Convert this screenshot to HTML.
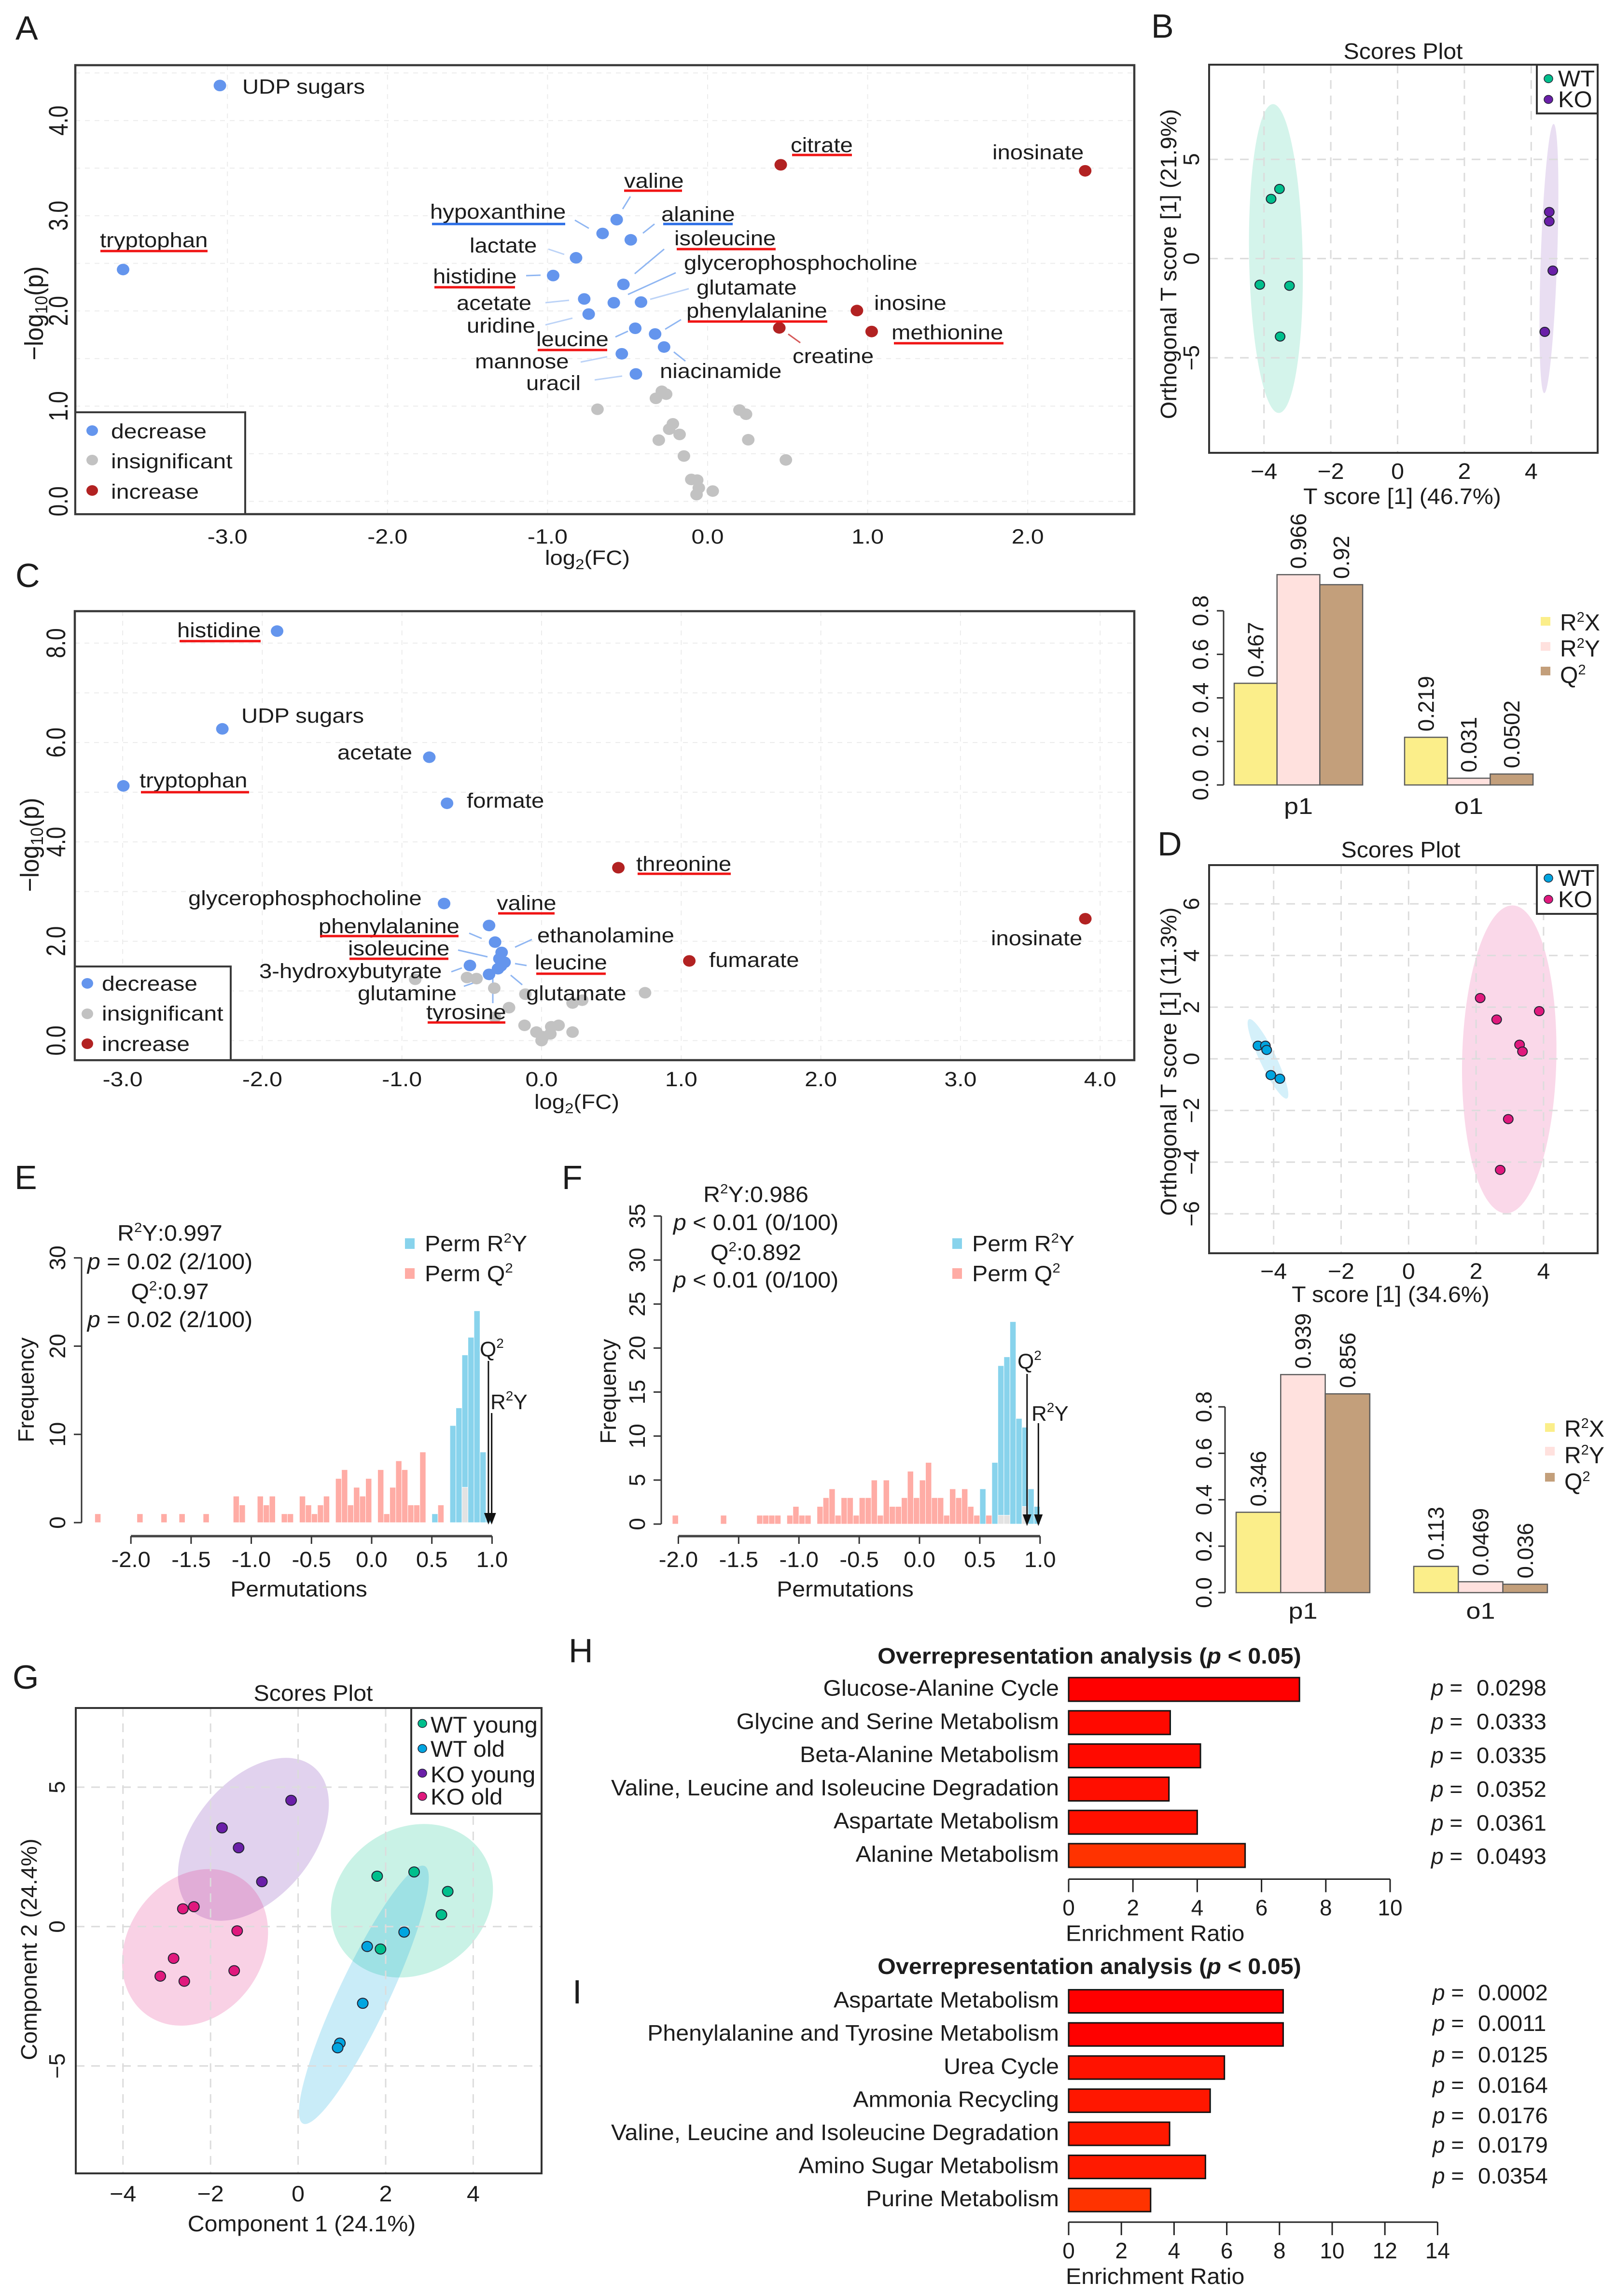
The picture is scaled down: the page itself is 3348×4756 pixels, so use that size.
<!DOCTYPE html>
<html lang="en">
<head>
<meta charset="utf-8">
<title>Metabolomics multi-panel figure</title>
<style>
html,body{margin:0;padding:0;background:#fff;}
svg{display:block;font-family:"Liberation Sans",Arial,sans-serif;}
text{fill:#1c1c1c;}
</style>
</head>
<body>
<svg id="figure" xmlns="http://www.w3.org/2000/svg" width="3348" height="4756" viewBox="0 0 3348 4756">
<rect x="0" y="0" width="3348" height="4756" fill="#fff"/>
<g font-size="70" style="fill:#333">
<text x="32" y="82">A</text>
<text x="2385" y="78">B</text>
<text x="32" y="1216">C</text>
<text x="2398" y="1772">D</text>
<text x="30" y="2463">E</text>
<text x="1164" y="2463">F</text>
<text x="26" y="3498">G</text>
<text x="1178" y="3443">H</text>
<text x="1186" y="4150">I</text>
</g>
<g id="panelA"></g>
<g id="panelB"></g>
<g id="panelBbars"></g>
<g id="panelC"></g>
<g id="panelD"></g>
<g id="panelDbars"></g>
<g id="panelE"></g>
<g id="panelF"></g>
<g id="panelG"></g>
<g id="panelH"></g>
<g id="panelI"></g>
</svg>
<script>
/* ---------- Panel A data ---------- */
const aNames = ["UDP sugars","tryptophan","citrate","inosinate","valine","hypoxanthine","alanine","lactate","histidine","isoleucine","acetate","glycerophosphocholine","glutamate","uridine","inosine","phenylalanine","leucine","creatine","methionine","niacinamide","mannose","uracil","","","","","","","","","","","","","","","","","",""];
const aFc = [-3.047,-3.652,0.457,2.359,-0.568,-0.656,-0.48,-0.822,-0.965,-0.526,-0.771,-0.586,-0.416,-0.743,0.933,-0.328,-0.452,0.448,1.025,-0.272,-0.536,-0.448,-0.286,-0.259,-0.323,-0.688,0.199,0.24,-0.217,-0.24,-0.175,-0.305,0.254,-0.148,0.489,-0.102,-0.065,-0.055,0.032,-0.069];
const aLogP = [4.368,2.435,3.535,3.472,2.959,2.814,2.747,2.558,2.372,2.279,2.126,2.086,2.093,1.967,2.004,1.758,1.818,1.822,1.784,1.621,1.55,1.338,1.156,1.126,1.082,0.967,0.959,0.915,0.814,0.758,0.703,0.643,0.647,0.476,0.435,0.23,0.223,0.141,0.108,0.071];
const aClass = ["d","d","i","i","d","d","d","d","d","d","d","d","d","d","i","d","d","i","i","d","d","d","n","n","n","n","n","n","n","n","n","n","n","n","n","n","n","n","n","n"];
const aXTicks = ["-3.0","-2.0","-1.0","0.0","1.0","2.0"];
const aYTicks = ["0.0","1.0","2.0","3.0","4.0"];

/* ---------- Panel C data ---------- */
const cNames = ["histidine","UDP sugars","acetate","tryptophan","formate","threonine","glycerophosphocholine","inosinate","valine","phenylalanine","ethanolamine","isoleucine","leucine","glutamate","glutamine","fumarate","3-hydroxybutyrate","tyrosine","","","","","","","","","","","","","","","","","",""];
const cFc = [-1.894,-2.286,-0.804,-2.995,-0.677,0.55,-0.698,3.894,-0.376,-0.333,-0.286,-0.302,-0.265,-0.291,-0.312,1.058,-0.513,-0.376,-0.534,-0.466,-0.905,-0.339,-0.116,0.741,0.222,0.291,-0.233,-0.333,-0.122,0.122,0.069,0.222,-0.037,0,0.063,0.011];
const cLogP = [8.243,6.275,5.704,5.127,4.777,3.48,2.759,2.453,2.317,1.982,1.775,1.647,1.576,1.504,1.447,1.604,1.512,1.333,1.269,1.248,1.234,1.055,0.934,0.963,0.756,0.813,0.663,0.471,0.307,0.307,0.278,0.171,0.171,0,0.135,0.078];
const cClass = ["d","d","d","d","d","i","d","i","d","d","d","d","d","d","d","i","d","d","n","n","n","n","n","n","n","n","n","n","n","n","n","n","n","n","n","n"];
const cXTicks = ["-3.0","-2.0","-1.0","0.0","1.0","2.0","3.0","4.0"];
const cYTicks = ["0.0","2.0","4.0","6.0","8.0"];

/* ---------- Panel B scores ---------- */
const bWtX = [-3.536,-3.787,-4.126,-3.237,-3.517];
const bWtY = [3.509,3.008,-1.319,-1.372,-3.931];
const bKoX = [4.541,4.541,4.647,4.406];
const bKoY = [2.348,1.873,-0.607,-3.694];
const bEllipseCx = [-3.643,4.531];
const bEllipseCy = [0,0];
const bXTicks = [-4,-2,0,2,4];
const bYTicks = [-5,0,5];

/* ---------- Panel D scores ---------- */
const dWtX = [-4.465,-4.245,-4.207,-4.083,-3.815];
const dWtY = [0.507,0.507,0.345,-0.629,-0.771];
const dKoX = [2.122,2.61,3.872,3.289,3.375,2.954,2.715];
const dKoY = [2.353,1.521,1.846,0.548,0.284,-2.333,-4.3];
const dEllipseCx = [-4.168,2.983];
const dEllipseCy = [0,-0.02];
const dXTicks = [-4,-2,0,2,4];
const dYTicks = [-6,-4,-2,0,2,4,6];

/* ---------- Panel G scores ---------- */
const gWtYoungX = [1.806,2.65,3.418,3.274,1.882];
const gWtYoungY = [1.809,1.96,1.261,0.426,-0.805];
const gWtOldX = [2.422,1.578,1.477,0.954,0.903];
const gWtOldY = [-0.198,-0.714,-2.751,-4.179,-4.347];
const gKoYoungX = [-0.16,-1.738,-1.359,-0.827];
const gKoYoungY = [4.529,3.541,2.827,1.611];
const gKoOldX = [-2.633,-2.38,-1.392,-2.844,-1.46,-3.148,-2.6];
const gKoOldY = [0.638,0.714,-0.152,-1.14,-1.581,-1.778,-1.96];
const gEllipseCx = [2.6,1.502,-1.021,-2.354];
const gEllipseCy = [0.927,-2.447,3.131,-0.745];
const gXTicks = [-4,-2,0,2,4];
const gYTicks = [-5,0,5];

/* ---------- Model summary bars ---------- */
const barCategories = ["p1","o1"];
const barTicks = ["0.0","0.2","0.4","0.6","0.8"];
const bP1Values = [0.467,0.966,0.92];
const bO1Values = [0.219,0.031,0.0502];
const dP1Values = [0.346,0.939,0.856];
const dO1Values = [0.113,0.0469,0.036];

/* ---------- Permutation histograms ---------- */
const histXTicks = ["-2.0","-1.5","-1.0","-0.5","0.0","0.5","1.0"];
const eYTicks = [0,10,20,30];
const fYTicks = [0,5,10,15,20,25,30,35];
const eR2Bins = [0.5,0.65,0.7,0.75,0.8,0.85,0.9,0.95];
const eR2Counts = [1,11,13,19,21,24,8,1];
const eQ2Bins = [-2.3,-1.95,-1.75,-1.6,-1.4,-1.15,-1.1,-0.95,-0.9,-0.85,-0.75,-0.7,-0.6,-0.55,-0.5,-0.45,-0.4,-0.3,-0.25,-0.2,-0.15,-0.1,-0.05,0.05,0.1,0.15,0.2,0.25,0.3,0.35,0.4,0.55,0.75];
const eQ2Counts = [1,1,1,1,1,3,2,3,2,3,1,1,3,2,1,2,3,5,6,2,4,3,5,6,1,4,7,6,2,2,8,2,4];
const eObservedQ2 = 0.97;
const eObservedR2Y = 0.997;
const fR2Bins = [0.5,0.6,0.65,0.7,0.75,0.8,0.85,0.9,0.95];
const fR2Counts = [4,7,18,19,23,12,11,4,2];
const fQ2Bins = [-2.05,-1.65,-1.35,-1.3,-1.25,-1.2,-1.1,-1.05,-1,-0.95,-0.85,-0.8,-0.75,-0.7,-0.65,-0.6,-0.55,-0.5,-0.45,-0.4,-0.35,-0.3,-0.25,-0.2,-0.15,-0.1,-0.05,0,0.05,0.1,0.15,0.2,0.25,0.3,0.35,0.4,0.45,0.55,0.65,0.7,0.85];
const fQ2Counts = [1,1,1,1,1,1,1,2,1,1,2,3,4,1,3,3,1,3,3,5,1,5,2,2,3,6,3,5,7,3,3,1,4,3,4,2,1,1,1,1,2];
const fObservedQ2 = 0.892;
const fObservedR2Y = 0.986;

/* ---------- Enrichment charts ---------- */
const hPathways = ["Glucose-Alanine Cycle","Glycine and Serine Metabolism","Beta-Alanine Metabolism","Valine, Leucine and Isoleucine Degradation","Aspartate Metabolism","Alanine Metabolism"];
const hRatios = [7.18,3.16,4.1,3.12,4,5.49];
const hPValues = [0.0298,0.0333,0.0335,0.0352,0.0361,0.0493];
const hTicks = [0,2,4,6,8,10];
const iPathways = ["Aspartate Metabolism","Phenylalanine and Tyrosine Metabolism","Urea Cycle","Ammonia Recycling","Valine, Leucine and Isoleucine Degradation","Amino Sugar Metabolism","Purine Metabolism"];
const iRatios = [8.14,8.14,5.91,5.37,3.83,5.19,3.11];
const iPValues = [0.0002,0.0011,0.0125,0.0164,0.0176,0.0179,0.0354];
const iTicks = [0,2,4,6,8,10,12,14];

/* ---------- Layout of annotations (pixels, not data) ---------- */
const volcanoLabelLayoutA = {"UDP sugars":[502,194],"citrate":[1638,315],"inosinate":[2056,330],"valine":[1293,389],"hypoxanthine":[891,453],"alanine":[1370,458],"isoleucine":[1397,508],"lactate":[973,523],"tryptophan":[207,512],"glycerophosphocholine":[1417,559],"histidine":[897,587],"glutamate":[1443,610],"acetate":[946,642],"inosine":[1811,642],"phenylalanine":[1422,658],"uridine":[967,689],"leucine":[1111,717],"methionine":[1847,703],"creatine":[1642,752],"mannose":[984,763],"niacinamide":[1367,783],"uracil":[1090,808]};
const volcanoUnderlinesA = [[1641,1765,321,"#f01414"],[1293,1413,395,"#f01414"],[895,1171,464,"#2a6de6"],[1374,1518,464,"#2a6de6"],[1402,1607,516,"#f01414"],[208,430,520,"#f01414"],[900,1067,595,"#f01414"],[1425,1714,666,"#f01414"],[1114,1258,725,"#f01414"],[1852,2079,711,"#f01414"]];
const volcanoLeadersA = [[1306,407,1290,433,"#8fb6f2"],[1191,456,1220,473,"#8fb6f2"],[1356,464,1332,483,"#8fb6f2"],[1136,516,1169,527,"#bcd3f7"],[1090,571,1120,570,"#8fb6f2"],[1376,516,1315,567,"#8fb6f2"],[1400,565,1301,610,"#8fb6f2"],[1427,598,1347,620,"#bcd3f7"],[1130,627,1179,622,"#bcd3f7"],[1130,673,1186,659,"#bcd3f7"],[1275,698,1301,686,"#8fb6f2"],[1378,682,1411,662,"#8fb6f2"],[1633,692,1658,710,"#d65a5a"],[1396,729,1420,748,"#8fb6f2"],[1203,750,1258,739,"#bcd3f7"],[1232,787,1289,779,"#bcd3f7"]];
const volcanoLabelLayoutC = {"histidine":[367,1320],"UDP sugars":[500,1497],"acetate":[699,1573],"tryptophan":[289,1631],"formate":[967,1673],"threonine":[1318,1804],"glycerophosphocholine":[390,1875],"valine":[1029,1885],"phenylalanine":[660,1933],"ethanolamine":[1113,1952],"inosinate":[2053,1958],"isoleucine":[721,1979],"fumarate":[1469,2003],"leucine":[1108,2008],"3-hydroxybutyrate":[537,2026],"glutamine":[741,2072],"glutamate":[1090,2072],"tyrosine":[883,2111]};
const volcanoUnderlinesC = [[372,540,1328,"#f01414"],[292,516,1641,"#f01414"],[1321,1514,1810,"#f01414"],[1032,1149,1892,"#f01414"],[663,950,1939,"#f01414"],[724,929,1986,"#f01414"],[1111,1255,2017,"#f01414"],[886,1047,2118,"#f01414"]];
const volcanoLeadersC = [[972,1933,998,1944,"#8fb6f2"],[949,1968,1010,1982,"#8fb6f2"],[1102,1946,1067,1962,"#8fb6f2"],[1067,1996,1091,2000,"#8fb6f2"],[935,2013,957,2005,"#8fb6f2"],[961,2043,987,2034,"#8fb6f2"],[1058,2020,1082,2040,"#8fb6f2"],[1021,2026,1021,2078,"#8fb6f2"]];

const svgNS = "http://www.w3.org/2000/svg";
function mk(parent, tag, attrs) {
  const el = document.createElementNS(svgNS, tag);
  for (const k in attrs) el.setAttribute(k, attrs[k]);
  parent.appendChild(el);
  return el;
}
function txt(parent, x, y, s, o) {
  o = o || {};
  const el = document.createElementNS(svgNS, "text");
  el.setAttribute("transform", "translate(" + x + "," + y + ") rotate(" + (o.rot || 0) + ") scale(" + (o.sx || 1) + ",1)");
  el.setAttribute("font-size", o.size || 46);
  el.setAttribute("text-anchor", o.anchor || "start");
  if (o.weight) el.setAttribute("font-weight", o.weight);
  el.innerHTML = s;
  parent.appendChild(el);
  return el;
}
function linear(v0, p0, pxPerUnit) { return function (v) { return p0 + (v - v0) * pxPerUnit; }; }

/* ---------- Volcano ---------- */
const volcanoColors = {d: "#6495ed", n: "#c2c2c2", i: "#b22222"};
function drawVolcano(host, c) {
  const X = linear(0, c.x0, c.sx), Y = linear(0, c.y0, -c.sy);
  for (let v = c.xRange[0]; v <= c.xRange[1]; v += 1) {
    const gl = mk(host, "line", {x1: X(v), x2: X(v), y1: c.f[1], y2: c.f[3], stroke: "#ececec", "stroke-width": 2, "stroke-dasharray": "10 10"});
    
    
  }
  for (let v = c.yRange[0]; v <= c.yRange[1]; v += c.yGridStep) {
    const gl = mk(host, "line", {x1: c.f[0], x2: c.f[2], y1: Y(v), y2: Y(v), stroke: "#ececec", "stroke-width": 2, "stroke-dasharray": "10 10"});
    
    
  }
  c.leaders.forEach(function (l) {
    const ln = mk(host, "line", {x1: l[0], y1: l[1], x2: l[2], y2: l[3], stroke: l[4], "stroke-width": 3});
    
    
  });
  c.fc.forEach(function (v, i) {
    const p = mk(host, "ellipse", {cx: X(v), cy: Y(c.logp[i]), rx: 13, ry: 12, fill: volcanoColors[c.cls[i]]});
    
    
  });
  c.names.forEach(function (n) {
    if (!n) return;
    const pos = c.layout[n];
    const t = txt(host, pos[0], pos[1], n, {size: 43, sx: 1.1});
    
    
  });
  c.underlines.forEach(function (u) {
    const r = mk(host, "rect", {x: u[0], y: u[2] - 2.5, width: u[1] - u[0], height: 5, fill: u[3]});
    
    
  });
  const fr = mk(host, "rect", {x: c.f[0], y: c.f[1], width: c.f[2] - c.f[0], height: c.f[3] - c.f[1], fill: "none", stroke: "#3a3a3a", "stroke-width": 4.5});
  
  
  c.xTicks.forEach(function (s) {
    const t = txt(host, X(parseFloat(s)), c.xTickY, s, {size: 43, sx: 1.12, anchor: "middle"});
    
    
  });
  c.yTicks.forEach(function (s) {
    const t = txt(host, c.yTickX, Y(parseFloat(s)), s, {size: 56, sx: 0.8, anchor: "middle", rot: -90});
    
    
  });
  const xt = txt(host, c.xLabel[0], c.xLabel[1], 'log<tspan font-size="30" dy="9">2</tspan><tspan dy="-9">(FC)</tspan>', {size: 43, sx: 1.1, anchor: "middle"});
  
  
  const yt = txt(host, c.yLabel[0], c.yLabel[1], '−log<tspan font-size="36" dy="9">10</tspan><tspan dy="-9">(p)</tspan>', {size: 54, sx: 0.93, anchor: "middle", rot: -90});
  
  
  const lb = mk(host, "rect", {x: c.lg.x, y: c.lg.y, width: c.lg.w, height: c.lg.h, fill: "#fff", stroke: "#3a3a3a", "stroke-width": 4});
  
  
  ["decrease", "insignificant", "increase"].forEach(function (n, i) {
    const m = mk(host, "ellipse", {cx: c.lg.mx, cy: c.lg.my[i], rx: 12, ry: 11, fill: volcanoColors[["d", "n", "i"][i]]});
    
    
    const t = txt(host, c.lg.tx, c.lg.ty[i], n, {size: 43, sx: 1.12});
    
    
  });
}

/* ---------- Scores ---------- */
function drawScores(host, c) {
  const X = linear(0, c.x0, c.sx), Y = linear(0, c.y0, -c.sy);
  c.ellipses.forEach(function (e) {
    const el = mk(host, "ellipse", {cx: 0, cy: 0, rx: e.rx, ry: e.ry, fill: e.fill, "fill-opacity": e.alpha, transform: "translate(" + X(e.cx) + "," + Y(e.cy) + ") rotate(" + e.rot + ")"});
    
    
  });
  c.xTicks.forEach(function (v) {
    const gl = mk(host, "line", {x1: X(v), x2: X(v), y1: c.f[1], y2: c.f[3], stroke: "#dcdcdc", "stroke-width": 3, "stroke-dasharray": "18 14"});
    
    
    const t = txt(host, X(v), c.xTickY, String(v).replace("-", "−"), {size: 46, anchor: "middle", sx: 1.05});
    
    
  });
  c.yTicks.forEach(function (v) {
    const gl = mk(host, "line", {x1: c.f[0], x2: c.f[2], y1: Y(v), y2: Y(v), stroke: "#dcdcdc", "stroke-width": 3, "stroke-dasharray": "18 14"});
    
    
    const t = txt(host, c.yTickX, Y(v), String(v).replace("-", "−"), {size: 46, anchor: "middle", rot: -90});
    
    
  });
  c.groups.forEach(function (g) {
    g.x.forEach(function (v, i) {
      const p = mk(host, "ellipse", {cx: X(v), cy: Y(g.y[i]), rx: c.r, ry: c.r - 0.5, fill: g.color, stroke: "#223", "stroke-width": 2});
      
      
    });
  });
  const fr = mk(host, "rect", {x: c.f[0], y: c.f[1], width: c.f[2] - c.f[0], height: c.f[3] - c.f[1], fill: "none", stroke: "#333", "stroke-width": 4});
  
  
  const title = txt(host, c.title[0], c.title[1], "Scores Plot", {size: 46, anchor: "middle", sx: 1.05});
  
  
  const xt = txt(host, c.xLabel[0], c.xLabel[1], c.xLabel[2], {size: 46, anchor: "middle", sx: 1.05});
  
  
  const yt = txt(host, c.yLabel[0], c.yLabel[1], c.yLabel[2], {size: 46, anchor: "middle", rot: -90, sx: 1.02});
  
  
  const lb = mk(host, "rect", {x: c.lg.x, y: c.lg.y, width: c.lg.w, height: c.lg.h, fill: "#fff", stroke: "#333", "stroke-width": 4});
  
  
  c.groups.forEach(function (g, i) {
    const m = mk(host, "ellipse", {cx: c.lg.mx, cy: c.lg.my[i], rx: 9, ry: 8.5, fill: g.color, stroke: "#223", "stroke-width": 1.5});
    
    
    const t = txt(host, c.lg.tx, c.lg.ty[i], g.label, {size: 47, sx: 1.04});
    
    
  });
}

/* ---------- Model summary bars ---------- */
const barFills = ["#fbee8a", "#ffe1de", "#c39f7b"];
const barLegendLabels = ['R<tspan font-size="29" dy="-18">2</tspan><tspan dy="18">X</tspan>', 'R<tspan font-size="29" dy="-18">2</tspan><tspan dy="18">Y</tspan>', 'Q<tspan font-size="29" dy="-18">2</tspan>'];
function drawModelBars(host, c) {
  const Y = linear(0, c.y0, -c.sy);
  const ax = mk(host, "line", {x1: c.axisX, x2: c.axisX, y1: Y(0), y2: Y(0.8), stroke: "#333", "stroke-width": 3});
  
  
  barTicks.forEach(function (s) {
    const v = parseFloat(s);
    const tk = mk(host, "line", {x1: c.axisX - 14, x2: c.axisX, y1: Y(v), y2: Y(v), stroke: "#333", "stroke-width": 3});
    
    
    const t = txt(host, c.tickX, Y(v), s, {size: 46, anchor: "middle", rot: -90});
    
    
  });
  c.sets.forEach(function (set, s) {
    set.values.forEach(function (v, i) {
      const x = set.x + i * c.barW;
      const r = mk(host, "rect", {x: x, y: Y(v), width: c.barW, height: Y(0) - Y(v), fill: barFills[i], stroke: "#5c5c5c", "stroke-width": 2.5});
      
      
      const t = txt(host, x + c.barW / 2 + 16, Y(v) - 12, String(v), {size: 46, rot: -90});
      
      
    });
    const ct = txt(host, set.x + c.barW * 1.5, c.catY, barCategories[s], {size: 47, anchor: "middle", sx: 1.15});
    
    
  });
  c.legend.forEach(function (l, i) {
    const sw = mk(host, "rect", {x: c.lgX, y: l[0] - 9, width: 20, height: 18, fill: barFills[i]});
    
    
    const t = txt(host, c.lgX + 40, l[1], barLegendLabels[i], {size: 48});
    
    
  });
}

/* ---------- Permutation histogram ---------- */
const superR2Y = 'R<tspan font-size="28" dy="-18">2</tspan><tspan dy="18">Y</tspan>';
const superQ2 = 'Q<tspan font-size="28" dy="-18">2</tspan>';
function drawHist(host, c) {
  const X = linear(0, c.x0, c.sx), Y = linear(0, c.y0, -c.sy);
  const binW = 0.05;
  c.r2Bins.forEach(function (b, i) {
    const r = mk(host, "rect", {x: X(b), y: Y(c.r2Counts[i]), width: X(binW) - X(0), height: Y(0) - Y(c.r2Counts[i]), fill: "#88d3ec", stroke: "#fff", "stroke-width": 1});
    
    
  });
  c.q2Bins.forEach(function (b, i) {
    const k = c.r2Bins.indexOf(b);
    const over = k >= 0;
    const r = mk(host, "rect", {x: X(b), y: Y(c.q2Counts[i]), width: X(binW) - X(0), height: Y(0) - Y(c.q2Counts[i]), fill: over ? "#e3e3e3" : "#ffaca5", stroke: "#fff", "stroke-width": 1});
    
    
  });
  [[c.obsQ2, c.q2Top], [c.obsR2, c.r2Top]].forEach(function (a) {
    const ax = X(a[0]);
    const ln = mk(host, "line", {x1: ax, x2: ax, y1: a[1], y2: Y(0), stroke: "#111", "stroke-width": 3});
    
    
    const hd = mk(host, "polygon", {points: (ax - 9) + "," + (Y(0) - 20) + " " + (ax + 9) + "," + (Y(0) - 20) + " " + ax + "," + (Y(0) + 4), fill: "#111"});
    
    
  });
  const q = txt(host, c.q2Label[0], c.q2Label[1], superQ2, {size: 44});
  
  
  const ry = txt(host, c.r2Label[0], c.r2Label[1], superR2Y, {size: 44});
  
  
  const xa = mk(host, "line", {x1: X(-2), x2: X(1), y1: c.axisY, y2: c.axisY, stroke: "#444", "stroke-width": 5});
  
  
  histXTicks.forEach(function (s) {
    const v = parseFloat(s);
    const tk = mk(host, "line", {x1: X(v), x2: X(v), y1: c.axisY, y2: c.axisY + 16, stroke: "#333", "stroke-width": 3});
    
    
    const t = txt(host, X(v), 3246, s, {size: 45, anchor: "middle", sx: 1.05});
    
    
  });
  const ya = mk(host, "line", {x1: c.axisX, x2: c.axisX, y1: Y(0), y2: Y(c.yTicks[c.yTicks.length - 1]), stroke: "#333", "stroke-width": 3});
  
  
  c.yTicks.forEach(function (v) {
    const tk = mk(host, "line", {x1: c.axisX - 16, x2: c.axisX, y1: Y(v), y2: Y(v), stroke: "#333", "stroke-width": 3});
    
    
    const t = txt(host, c.axisX - 34, Y(v), String(v), {size: 46, anchor: "middle", rot: -90});
    
    
  });
  const xt = txt(host, c.xTitleX, 3307, "Permutations", {size: 45, anchor: "middle", sx: 1.07});
  
  
  const yt = txt(host, c.yTitle[0], c.yTitle[1], "Frequency", {size: 46, anchor: "middle", rot: -90});
  
  
  c.notes.forEach(function (n) {
    const t = txt(host, c.noteX, n[0], n[1], {size: 46, anchor: "middle", sx: 1.05});
    
    
  });
  [[2576, 2592, 'Perm ' + superR2Y, "#88d3ec"], [2638, 2654, 'Perm ' + superQ2, "#ffaca5"]].forEach(function (l) {
    const sw = mk(host, "rect", {x: c.lgX - 10, y: l[0] - 11, width: 20, height: 22, fill: l[3]});
    
    
    const t = txt(host, c.lgX + 31, l[1], l[2], {size: 46, sx: 1.05});
    
    
  });
}

/* ---------- Enrichment ---------- */
function drawEnrichment(host, c) {
  const X = linear(0, c.x0, c.sx);
  const pMin = Math.min.apply(null, c.pValues), pMax = Math.max.apply(null, c.pValues);
  const title = txt(host, 2257, c.titleY, 'Overrepresentation analysis (<tspan font-style="italic">p</tspan> &lt; 0.05)', {size: 46, anchor: "middle", weight: "bold", sx: 1.055});
  
  
  c.pathways.forEach(function (n, i) {
    const top = c.barTop + i * c.step;
    const green = Math.round((c.pValues[i] - pMin) / (pMax - pMin) * 51);
    const r = mk(host, "rect", {x: X(0), y: top, width: X(c.ratios[i]) - X(0), height: c.barH, fill: "rgb(255," + green + ",0)", stroke: "#111", "stroke-width": 3});
    
    
    const t = txt(host, 2194, top + c.barH / 2 + 13, n, {size: 46, anchor: "end", sx: 1.05});
    
    
    const p = txt(host, c.pX, c.pY[i], '<tspan font-style="italic">p</tspan> =', {size: 46});
    
    
    const pv = txt(host, c.pX + 94, c.pY[i], c.pValues[i].toFixed(4), {size: 46, sx: 1.03});
    
    
  });
  const ax = mk(host, "line", {x1: X(0), x2: X(c.ticks[c.ticks.length - 1]), y1: c.axisY, y2: c.axisY, stroke: "#222", "stroke-width": 3});
  
  
  c.ticks.forEach(function (v) {
    const tk = mk(host, "line", {x1: X(v), x2: X(v), y1: c.axisY, y2: c.axisY + 27, stroke: "#222", "stroke-width": 3});
    
    
    const t = txt(host, X(v), c.axisY + 75, String(v), {size: 46, anchor: "middle"});
    
    
  });
  const xt = txt(host, 2208, c.axisY + 128, "Enrichment Ratio", {size: 46, sx: 1.05});
  
  
}

/* ---------- Render ---------- */
function byId(i) { return document.getElementById(i); }
drawVolcano(byId("panelA"), {
  x0: 1466, sx: 331.6, y0: 1038.5, sy: 197.2, f: [156, 135, 2350, 1065], xRange: [-3, 2], yRange: [0, 4.5], yGridStep: 0.5,
  names: aNames, fc: aFc, logp: aLogP, cls: aClass, layout: volcanoLabelLayoutA, underlines: volcanoUnderlinesA, leaders: volcanoLeadersA,
  xTicks: aXTicks, yTicks: aYTicks, xTickY: 1126, yTickX: 140, xLabel: [1217, 1170], yLabel: [89, 649],
  lg: {x: 156, y: 854, w: 352, h: 211, mx: 191, my: [892, 953, 1016], tx: 230, ty: [908, 970, 1033]}
});
drawVolcano(byId("panelC"), {
  x0: 1122, sx: 289.3, y0: 2155.5, sy: 102.9, f: [155, 1266, 2350, 2196], xRange: [-3, 4], yRange: [0, 8], yGridStep: 1,
  names: cNames, fc: cFc, logp: cLogP, cls: cClass, layout: volcanoLabelLayoutC, underlines: volcanoUnderlinesC, leaders: volcanoLeadersC,
  xTicks: cXTicks, yTicks: cYTicks, xTickY: 2250, yTickX: 135, xLabel: [1195, 2297], yLabel: [80, 1750],
  lg: {x: 155, y: 2002, w: 323, h: 194, mx: 181, my: [2037, 2100, 2162], tx: 211, ty: [2052, 2114, 2177]}
});
drawScores(byId("panelB"), {
  x0: 2895.5, sx: 69.2, y0: 535.6, sy: 41.1, f: [2505, 134, 3310, 938], r: 10, xTicks: bXTicks, yTicks: bYTicks, xTickY: 992, yTickX: 2484,
  title: [2907, 122], xLabel: [2905, 1044, "T score [1] (46.7%)"], yLabel: [2437, 547, "Orthogonal T score [1] (21.9%)"],
  ellipses: [
    {name: "wt", cx: bEllipseCx[0], cy: bEllipseCy[0], rx: 55.5, ry: 320, rot: -1.1, fill: "#00c08b", alpha: 0.17},
    {name: "ko", cx: bEllipseCx[1], cy: bEllipseCy[1], rx: 17, ry: 279, rot: 2, fill: "#6a1fa8", alpha: 0.15}
  ],
  groups: [{name: "wt", label: "WT", x: bWtX, y: bWtY, color: "#00bf8c"}, {name: "ko", label: "KO", x: bKoX, y: bKoY, color: "#6a1fa8"}],
  lg: {x: 3184, y: 134, w: 126, h: 101, mx: 3208, my: [163, 206], tx: 3228, ty: [179, 222]}
});
drawScores(byId("panelD"), {
  x0: 2918.3, sx: 69.9, y0: 2193.3, sy: 53.5, f: [2505, 1792, 3310, 2596], r: 10, xTicks: dXTicks, yTicks: dYTicks, xTickY: 2649, yTickX: 2484,
  title: [2902, 1776], xLabel: [2881, 2697, "T score [1] (34.6%)"], yLabel: [2437, 2199, "Orthogonal T score [1] (11.3%)"],
  ellipses: [
    {name: "wt", cx: dEllipseCx[0], cy: dEllipseCy[0], rx: 17, ry: 91, rot: -25.6, fill: "#00a5e0", alpha: 0.17},
    {name: "ko", cx: dEllipseCx[1], cy: dEllipseCy[1], rx: 97.6, ry: 319, rot: 1.3, fill: "#e0197d", alpha: 0.17}
  ],
  groups: [{name: "wt", label: "WT", x: dWtX, y: dWtY, color: "#00a5e0"}, {name: "ko", label: "KO", x: dKoX, y: dKoY, color: "#e0197d"}],
  lg: {x: 3184, y: 1792, w: 126, h: 101, mx: 3208, my: [1819, 1863], tx: 3228, ty: [1835, 1879]}
});
drawScores(byId("panelG"), {
  x0: 617.6, sx: 90.7, y0: 3990.8, sy: 57.75, f: [157, 3538, 1122, 4502], r: 11, xTicks: gXTicks, yTicks: gYTicks, xTickY: 4560, yTickX: 134,
  title: [649, 3523], xLabel: [625, 4622, "Component 1 (24.1%)"], yLabel: [76, 4038, "Component 2 (24.4%)"],
  ellipses: [
    {name: "wt-young", cx: gEllipseCx[0], cy: gEllipseCy[0], rx: 176, ry: 150, rot: -35, fill: "#00c08b", alpha: 0.21},
    {name: "wt-old", cx: gEllipseCx[1], cy: gEllipseCy[1], rx: 295, ry: 52, rot: -64.7, fill: "#00a5e0", alpha: 0.21},
    {name: "ko-young", cx: gEllipseCx[2], cy: gEllipseCy[2], rx: 195, ry: 122, rot: -50, fill: "#6a1fa8", alpha: 0.2},
    {name: "ko-old", cx: gEllipseCx[3], cy: gEllipseCy[3], rx: 172, ry: 140, rot: -55, fill: "#e0197d", alpha: 0.2}
  ],
  groups: [
    {name: "wt-young", label: "WT young", x: gWtYoungX, y: gWtYoungY, color: "#00bf8c"},
    {name: "wt-old", label: "WT old", x: gWtOldX, y: gWtOldY, color: "#00a5e0"},
    {name: "ko-young", label: "KO young", x: gKoYoungX, y: gKoYoungY, color: "#6a1fa8"},
    {name: "ko-old", label: "KO old", x: gKoOldX, y: gKoOldY, color: "#e0197d"}
  ],
  lg: {x: 852, y: 3538, w: 270, h: 219, mx: 875, my: [3570, 3622, 3673, 3721], tx: 892, ty: [3589, 3639, 3692, 3738]}
});
drawModelBars(byId("panelBbars"), {
  y0: 1626, sy: 451, axisX: 2535, tickX: 2503, barW: 88.7, catY: 1686,
  sets: [{x: 2557, values: bP1Values}, {x: 2910, values: bO1Values}],
  lgX: 3192, legend: [[1287, 1306], [1339, 1360], [1390, 1415]]
});
drawModelBars(byId("panelDbars"), {
  y0: 3299, sy: 481, axisX: 2538, tickX: 2510, barW: 92.3, catY: 3353,
  sets: [{x: 2561, values: dP1Values}, {x: 2929, values: dO1Values}],
  lgX: 3201, legend: [[2957, 2976], [3006, 3031], [3060, 3086]]
});
const pLine = function (s) { return '<tspan font-style="italic">p</tspan> ' + s; };
drawHist(byId("panelE"), {
  x0: 770, sx: 249.4, y0: 3154, sy: 18.28, r2Bins: eR2Bins, r2Counts: eR2Counts, q2Bins: eQ2Bins, q2Counts: eQ2Counts,
  obsQ2: eObservedQ2, obsR2: eObservedR2Y, q2Top: 2819, r2Top: 2927, q2Label: [994, 2810], r2Label: [1016, 2919],
  axisY: 3182, axisX: 169, yTicks: eYTicks, xTitleX: 619, yTitle: [70, 2879], noteX: 352, lgX: 849,
  notes: [[2570, superR2Y + ':0.997'], [2629, pLine('= 0.02 (2/100)')], [2691, superQ2 + '<tspan dy="18">:0.97</tspan>'], [2749, pLine('= 0.02 (2/100)')]]
});
drawHist(byId("panelF"), {
  x0: 1905, sx: 249.8, y0: 3157, sy: 18.23, r2Bins: fR2Bins, r2Counts: fR2Counts, q2Bins: fQ2Bins, q2Counts: fQ2Counts,
  obsQ2: fObservedQ2, obsR2: fObservedR2Y, q2Top: 2846, r2Top: 2948, q2Label: [2108, 2835], r2Label: [2137, 2943],
  axisY: 3182, axisX: 1370, yTicks: fYTicks, xTitleX: 1751, yTitle: [1276, 2882], noteX: 1566, lgX: 1983,
  notes: [[2490, superR2Y + ':0.986'], [2548, pLine('&lt; 0.01 (0/100)')], [2610, superQ2 + '<tspan dy="18">:0.892</tspan>'], [2667, pLine('&lt; 0.01 (0/100)')]]
});
drawEnrichment(byId("panelH"), {
  x0: 2214, sx: 66.6, titleY: 3446, barTop: 3475, barH: 49, step: 68.8, pathways: hPathways, ratios: hRatios, pValues: hPValues, ticks: hTicks,
  pX: 2965, pY: [3512, 3582, 3652, 3722, 3792, 3861], axisY: 3892.5
});
drawEnrichment(byId("panelI"), {
  x0: 2214, sx: 54.6, titleY: 4089, barTop: 4121.6, barH: 48, step: 68.6, pathways: iPathways, ratios: iRatios, pValues: iPValues, ticks: iTicks,
  pX: 2968, pY: [4143.5, 4207, 4272, 4335, 4398, 4459, 4523], axisY: 4603
});
</script>
</body>
</html>
